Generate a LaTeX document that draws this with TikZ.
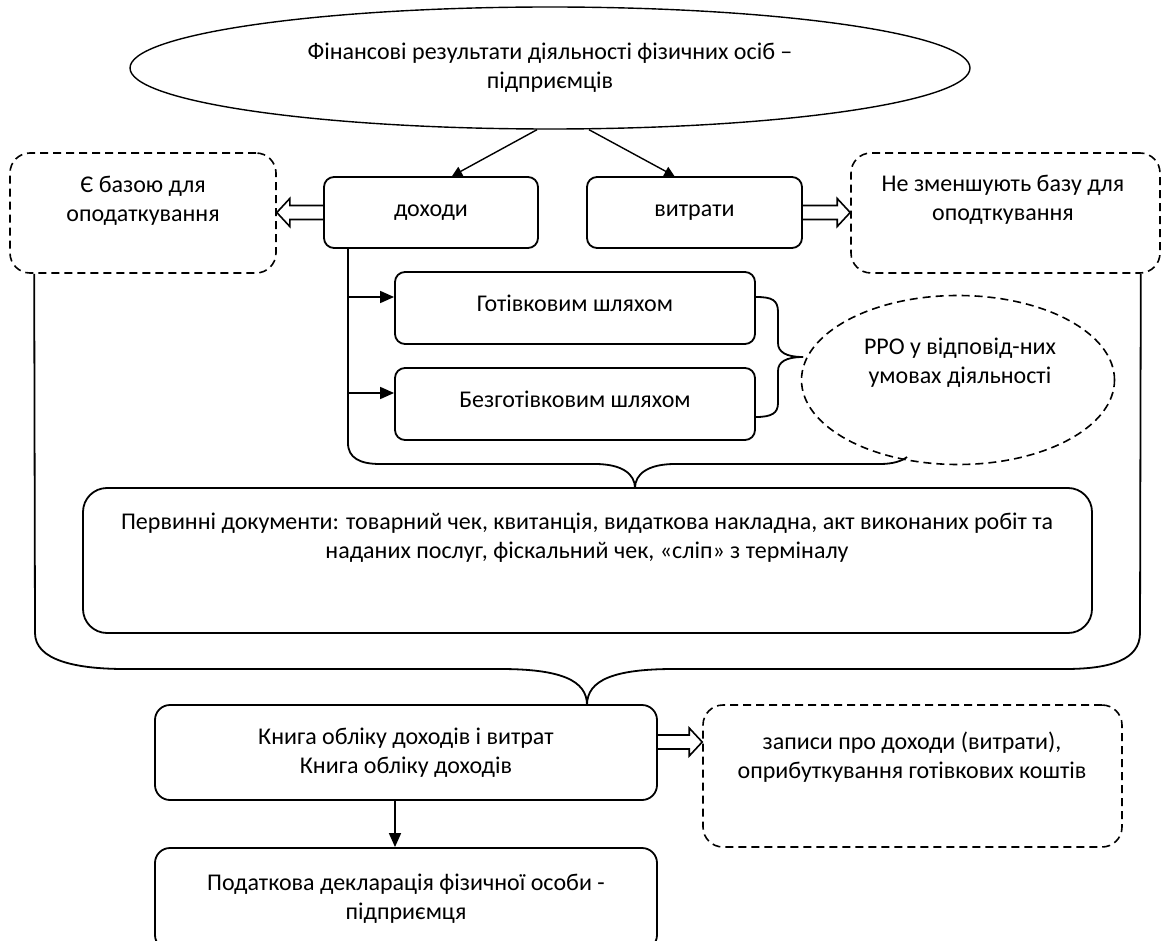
\documentclass[tikz,border=0pt]{standalone}
\usepackage{fontspec}
\setmainfont{Carlito}
\usetikzlibrary{shapes.geometric,arrows.meta,calc}

% open block arrow between two anchors (horizontal)
\newcommand{\hollowarrow}[2]{%
	\draw[hol] let \p1=(#1), \p2=(#2), \n1={sign(\x2-\x1)} in
		(\x1,{\y1+3.5pt}) -- ({\x2-(\n1)*6.5pt},{\y1+3.5pt}) -- ({\x2-(\n1)*6.5pt},{\y1+7pt})
		-- (\x2,\y1) -- ({\x2-(\n1)*6.5pt},{\y1-7pt}) -- ({\x2-(\n1)*6.5pt},{\y1-3.5pt}) -- (\x1,{\y1-3.5pt});}

\begin{document}
\begin{tikzpicture}[x=0.5pt,y=-0.5pt,font=\fontsize{12}{14.5}\selectfont,
	box/.style={draw, line width=0.9pt, rounded corners=5pt, inner sep=0pt, align=center},
	dbox/.style={draw, line width=0.8pt, dash pattern=on 4pt off 2.5pt, rounded corners=10pt, inner sep=0pt},
	lbl/.style={align=center, inner sep=0pt},
	arr/.style={line width=0.8pt, -{Triangle[length=7pt,width=6pt]}},
	hol/.style={line width=0.8pt},
	br/.style={line width=0.9pt}]
	\useasboundingbox (0,0) rectangle (1162,941);

	\node[ellipse, draw, line width=0.7pt, minimum width=420pt, minimum height=61pt, inner sep=0pt, align=center] (fin) at (550,68) {Фінансові результати діяльності фізичних осіб –\\підприємців};

	\node[box, minimum width=107pt, minimum height=35.5pt] (inc) at (431,212.5) {доходи};
	\node[box, minimum width=107.5pt, minimum height=35.5pt] (exp) at (694.5,212.5) {витрати};

	\node[dbox, minimum width=133pt, minimum height=60pt] (lbox) at (143,213) {};
	\node[lbl] (lboxt) at (143,201) {Є базою для\\оподаткування};
	\node[dbox, minimum width=154.5pt, minimum height=60pt] (rbox) at (1005.5,213) {};
	\node[lbl] (rboxt) at (1003,200) {Не зменшують базу для\\оподткування};

	\node[box, minimum width=180pt, minimum height=36pt] (cash) at (575,308) {};
	\node[lbl] (casht) at (575,303) {Готівковим шляхом};
	\node[box, minimum width=180pt, minimum height=36pt] (cashless) at (575,404) {};
	\node[lbl] (cashlesst) at (575,399) {Безготівковим шляхом};

	\node[ellipse, draw, line width=0.8pt, dash pattern=on 4pt off 2.5pt, minimum width=156.5pt, minimum height=84.5pt, inner sep=0pt] (rro) at (958,380) {};
	\node[lbl] (rrot) at (960,363) {РРО у відповід-них\\умовах діяльності};

	\node[box, rounded corners=12pt, minimum width=504.5pt, minimum height=72.5pt] (pd) at (587.5,560.5) {};
	\node[lbl] (pdt) at (587,537.5) {Первинні документи: товарний чек, квитанція, видаткова накладна, акт виконаних робіт та\\наданих послуг, фіскальний чек, «сліп» з терміналу};

	\node[box, rounded corners=7.5pt, minimum width=251pt, minimum height=47.5pt] (book) at (406,752.5) {Книга обліку доходів і витрат\\Книга обліку доходів};
	\node[dbox, minimum width=209.5pt, minimum height=71pt] (rec) at (912.5,776) {};
	\node[lbl] (rect) at (912,757) {записи про доходи (витрати),\\оприбуткування готівкових коштів};
	\node[box, rounded corners=7.5pt, minimum width=251pt, minimum height=51pt] (decl) at (406,899) {Податкова декларація фізичної особи -\\підприємця};

	% arrows
	\draw[line width=0.7pt, -{Triangle[length=5pt,width=5pt]}] ([xshift=-6.5pt]fin.south) -- ([xshift=10.5pt]inc.north);
	\draw[line width=0.7pt, -{Triangle[length=5pt,width=5pt]}] ([xshift=19.5pt]fin.south) -- ([xshift=-10pt]exp.north);
	\hollowarrow{inc.west}{lbox.east}
	\hollowarrow{exp.east}{rbox.west}
	\hollowarrow{[yshift=5.25pt]book.east}{rec.west}

	\coordinate (sp) at ([xshift=-41.5pt]inc.south);
	\coordinate (cashtip) at ([yshift=5.5pt]cash.west);
	\coordinate (cashlesstip) at ([yshift=5.5pt]cashless.west);
	\draw[arr] (sp |- cashtip) -- (cashtip);
	\draw[arr] (sp |- cashlesstip) -- (cashlesstip);
	\draw[arr] ([xshift=-5.5pt]book.south) -- ([xshift=-5.5pt]decl.north);

	% braces
	\draw[br] ([yshift=5.5pt]cash.east) .. controls (772,297) and (778,300) .. (778,312) -- (778,343) .. controls (778,352) and (786,357) .. (803,357);
	\draw[br] (803,357) .. controls (786,357) and (778,362) .. (778,371) -- (778,403) .. controls (778,413) and (772,417) .. ([yshift=-6.5pt]cashless.east);

	\draw[br] (sp) -- (348,443) .. controls (348,458) and (360,464) .. (380,464) -- (595,464) .. controls (622,464) and (635,474) .. (635,488);
	\draw[br] (635,488) .. controls (635,474) and (648,464) .. (675,464) -- (880,464) .. controls (893,464) and (902,461) .. (907,457);

	\draw[br] ([xshift=12.5pt]lbox.south west) -- (35,633) .. controls (35,660) and (75,669) .. (125,669) -- (500,669) .. controls (560,669) and (587,680) .. (587,705);
	\draw[br] (587,705) .. controls (587,680) and (614,669) .. (674,669) -- (1065,669) .. controls (1110,669) and (1140,660) .. (1140,633) -- ([xshift=-10pt]rbox.south east);
\end{tikzpicture}
\end{document}
